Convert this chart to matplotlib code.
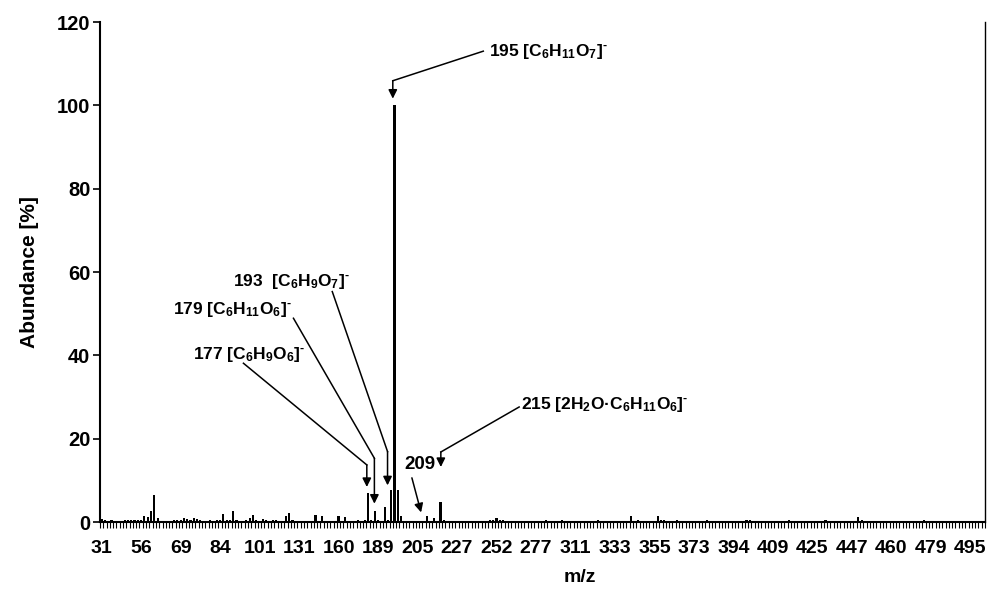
import matplotlib
matplotlib.use('Agg')
import matplotlib.pyplot as plt
from matplotlib.ticker import FixedLocator, NullFormatter

plt.rcParams['font.family'] = ['Liberation Sans', 'DejaVu Sans']
plt.rcParams['font.weight'] = 'bold'
plt.rcParams['mathtext.fontset'] = 'custom'
plt.rcParams['mathtext.rm'] = 'Liberation Sans:bold'
plt.rcParams['mathtext.bf'] = 'Liberation Sans:bold'
plt.rcParams['mathtext.it'] = 'Liberation Sans:bold'
plt.rcParams['mathtext.default'] = 'rm'

# ---- data (one value per m/z category) ----
abundance = [
    0.8, 0.4, 0.3, 0.5, 0.3, 0.3, 0.3, 0.4, 0.4, 0.4,
    0.4, 0.5, 0.6, 1.4, 1.2, 2.6, 6.6, 1.0, 0.3, 0.3,
    0.3, 0.3, 0.4, 0.5, 0.6, 1.0, 0.8, 0.6, 1.0, 0.8,
    0.5, 0.3, 0.3, 0.4, 0.3, 0.4, 0.5, 1.9, 0.6, 0.4,
    2.6, 0.4, 0.3, 0.3, 0.5, 1.0, 1.8, 0.4, 0.3, 0.8,
    0.4, 0.3, 0.4, 0.4, 0.3, 0.3, 1.4, 2.1, 0.4, 0.3,
    0.3, 0.3, 0.3, 0.3, 0.3, 1.8, 0.3, 1.4, 0.3, 0.3,
    0.3, 0.3, 1.4, 0.3, 1.3, 0.3, 0.3, 0.3, 0.5, 0.3,
    0.4, 7.0, 0.6, 2.6, 0.5, 0.3, 3.6, 0.5, 7.8, 100.0,
    7.8, 1.5, 0.3, 0.3, 0.3, 0.3, 0.3, 0.3, 0.3, 1.4,
    0.3, 1.0, 0.3, 4.8, 0.6, 0.3, 0.3, 0.3, 0.3, 0.3,
    0.3, 0.3, 0.3, 0.3, 0.3, 0.3, 0.3, 0.3, 0.4, 0.4,
    1.0, 0.5, 0.4, 0.3, 0.3, 0.3, 0.3, 0.3, 0.3, 0.3,
    0.3, 0.3, 0.3, 0.3, 0.3, 0.5, 0.3, 0.3, 0.3, 0.3,
    0.5, 0.3, 0.3, 0.3, 0.3, 0.3, 0.3, 0.3, 0.3, 0.3,
    0.3, 0.5, 0.3, 0.3, 0.3, 0.3, 0.3, 0.3, 0.3, 0.3,
    0.3, 1.5, 0.3, 0.6, 0.3, 0.3, 0.3, 0.3, 0.3, 1.5,
    0.6, 0.5, 0.3, 0.3, 0.3, 0.5, 0.3, 0.3, 0.3, 0.3,
    0.3, 0.3, 0.3, 0.3, 0.5, 0.3, 0.3, 0.3, 0.3, 0.3,
    0.3, 0.3, 0.3, 0.3, 0.3, 0.3, 0.5, 0.5, 0.3, 0.3,
    0.3, 0.3, 0.3, 0.3, 0.3, 0.3, 0.3, 0.3, 0.3, 0.6,
    0.3, 0.3, 0.3, 0.3, 0.3, 0.3, 0.3, 0.3, 0.3, 0.3,
    0.5, 0.3, 0.3, 0.3, 0.3, 0.3, 0.3, 0.3, 0.3, 0.3,
    1.1, 0.5, 0.3, 0.3, 0.3, 0.3, 0.3, 0.3, 0.3, 0.3,
    0.3, 0.3, 0.3, 0.3, 0.3, 0.3, 0.3, 0.3, 0.3, 0.3,
    0.6, 0.3, 0.3, 0.3, 0.3, 0.3, 0.3, 0.3, 0.3, 0.3,
    0.3, 0.3, 0.3, 0.3, 0.3, 0.3, 0.3, 0.3, 0.3,
]

tick_labels = ['31', '56', '69', '84', '101', '131', '160', '189', '205',
               '227', '252', '277', '311', '333', '355', '373', '394', '409',
               '425', '447', '460', '479', '495']
label_step = 12

y_ticks = [0, 20, 40, 60, 80, 100, 120]

ann_texts = [
    r'195 [C$_{6}$H$_{11}$O$_{7}$]$^{\text{-}}$',
    r'193  [C$_{6}$H$_{9}$O$_{7}$]$^{\text{-}}$',
    r'179 [C$_{6}$H$_{11}$O$_{6}$]$^{\text{-}}$',
    r'177 [C$_{6}$H$_{9}$O$_{6}$]$^{\text{-}}$',
    '209',
    '215 [2H$_{2}$O\u00b7C$_{6}$H$_{11}$O$_{6}$]$^{\\text{-}}$',
]
# layout of labels and leader lines (data coordinates)
ann_text_xy = [(117.6, 113.0), (40.0, 57.8), (21.8, 50.9), (27.9, 40.1),
               (91.9, 13.9), (127.6, 28.3)]
ann_sizes = [12.5, 12.5, 12.5, 12.5, 13.5, 12.5]
ann_start = [(116.0, 113.0), (70.1, 55.3), (58.3, 48.9), (43.1, 38.1),
             (94.3, 10.6), (126.9, 27.6)]
ann_bend = [(88.5, 105.9), (86.9, 16.9), (82.9, 15.3), (80.6, 13.7),
            None, (103.1, 16.8)]
ann_tip = [(88.5, 101.6), (86.9, 8.8), (82.9, 4.4), (80.6, 8.4),
           (97.1, 2.3), (103.1, 13.2)]

# ---- figure ----
fig = plt.figure(figsize=(9.94, 5.90), dpi=100)
ax = fig.add_axes([100 / 994, 68 / 590, 885 / 994, 500 / 590])

n = len(abundance)
ax.bar(range(n), abundance, width=0.65, color='black', linewidth=0)

ax.set_xlim(-0.5, n - 0.5)
ax.set_ylim(0, 120)

ax.set_yticks(y_ticks)
ax.set_yticklabels([str(v) for v in y_ticks], fontsize=14.5, fontweight='bold')
ax.tick_params(axis='y', direction='out', length=5, width=1.2, pad=2)

major_pos = [i * label_step for i in range(len(tick_labels))]
ax.xaxis.set_major_locator(FixedLocator(major_pos))
ax.set_xticklabels(tick_labels, fontsize=14, fontweight='bold')
ax.xaxis.set_minor_locator(FixedLocator([k - 0.5 for k in range(n + 1)]))
ax.xaxis.set_minor_formatter(NullFormatter())
ax.tick_params(axis='x', which='major', length=0, pad=13)
ax.tick_params(axis='x', which='minor', direction='out', length=4, width=0.8)

for s in ['left', 'bottom']:
    ax.spines[s].set_linewidth(1.5)
ax.spines['right'].set_linewidth(1.0)
ax.spines['top'].set_visible(False)

ax.set_ylabel('Abundance [%]', fontsize=15, fontweight='bold')
ax.yaxis.set_label_coords(-0.069, 0.5)
ax.set_xlabel('m/z', fontsize=14, fontweight='bold', va='center')
ax.xaxis.set_label_coords(0.542, -0.112)

for txt, pos, fs, st, bd, tp in zip(ann_texts, ann_text_xy, ann_sizes,
                                    ann_start, ann_bend, ann_tip):
    ax.text(pos[0], pos[1], txt, fontsize=fs, fontweight='bold',
            ha='left', va='center')
    if bd is not None:
        ax.plot([st[0], bd[0]], [st[1], bd[1]], color='black', lw=1.1)
        src = bd
    else:
        src = st
    ax.annotate('', xy=tp, xytext=src,
                arrowprops=dict(arrowstyle='-|>', color='black', lw=1.1,
                                mutation_scale=13, shrinkA=0, shrinkB=0))

fig.savefig('out.png', dpi=100)
